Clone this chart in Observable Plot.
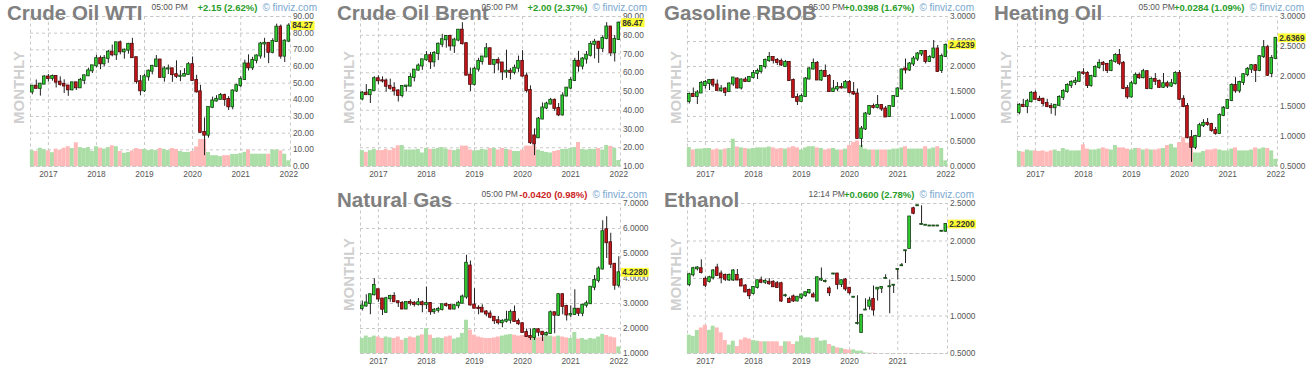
<!DOCTYPE html>
<html><head><meta charset="utf-8">
<script src="https://cdn.jsdelivr.net/npm/d3@7"></script>
<script src="https://cdn.jsdelivr.net/npm/@observablehq/plot@0.6"></script>
<style>
body{margin:0;background:#fff;width:1315px;height:376px;overflow:hidden;position:relative;font-family:"Liberation Sans",Arial,sans-serif}
.panel{position:absolute;width:328px;height:183px}
.panel svg{position:absolute;left:0;top:0}
.time{position:absolute;left:151.5px;top:2px;font-size:8.5px;line-height:11px;color:#555;z-index:1;white-space:nowrap}
.right{position:absolute;right:11px;top:2px;display:flex;gap:5px;align-items:baseline;line-height:11px;z-index:1;white-space:nowrap}
.chg{font-size:9.5px;font-weight:bold}
.fv{font-size:10px;color:#7aa7cf}
.title{position:absolute;left:7px;top:3.3px;font-size:20.5px;line-height:1;font-weight:bold;color:#808080;z-index:2;white-space:nowrap}
</style></head><body>
<script>
// Monthly candles Sep 2016 .. Jan 2022 : [open, high, low, close, relative volume]
const wti = [
[44.7,48.3,43.0,48.2,52],[48.2,51.9,46.6,46.9,50],[46.9,49.9,42.2,49.4,61],[49.4,54.5,49.4,53.7,56],
[53.7,55.2,50.7,52.8,52],[52.8,54.9,51.2,54.0,46],[54.0,54.6,47.1,50.6,58],[50.6,53.8,48.2,49.3,54],[49.3,52.0,43.8,48.3,61],[48.3,48.6,42.1,46.0,66],[46.0,50.4,45.4,50.2,60],[50.2,50.4,45.6,47.2,79],[47.2,52.9,46.8,51.7,63],[51.7,54.9,49.1,54.4,60],[54.4,59.0,54.2,57.4,63],[57.4,60.5,55.8,60.4,50],
[60.4,66.7,59.1,64.7,66],[64.7,66.3,58.1,61.6,61],[61.6,66.6,59.9,64.9,58],[64.9,69.6,61.9,68.6,63],[68.6,72.9,65.8,67.0,69],[67.0,74.5,63.6,74.2,66],[74.2,75.3,67.0,68.8,50],[68.8,70.5,64.4,69.8,44],[69.8,73.9,67.4,73.3,47],[73.3,76.9,64.9,65.3,52],[65.3,65.4,49.4,50.9,60],[50.9,54.6,42.4,45.4,57],
[45.4,55.4,44.4,53.8,57],[53.8,57.9,51.2,57.2,53],[57.2,60.7,55.0,60.1,55],[60.1,66.6,59.5,63.9,53],[63.9,63.9,53.0,53.5,60],[53.5,59.9,50.6,58.5,57],[58.5,60.9,55.2,58.6,53],[58.6,58.8,50.5,55.1,60],[55.1,63.4,52.8,54.1,57],[54.1,57.5,50.9,54.2,50],[54.2,58.7,54.0,55.2,47],[55.2,62.3,55.0,61.1,47],
[61.1,65.7,51.3,51.6,50],[51.6,54.7,44.0,44.8,65],[44.8,48.7,20.1,20.5,90],[20.5,29.1,6.5,18.8,90],[18.8,35.4,17.0,35.5,47],[35.5,41.6,34.7,39.3,36],[39.3,42.5,38.7,40.3,36],[40.3,43.8,40.0,42.6,33],[42.6,43.4,36.1,40.2,36],[40.2,41.9,33.6,35.8,36],[35.8,46.0,34.0,45.3,40],[45.3,49.4,44.4,48.5,40],
[48.5,53.9,47.2,52.2,43],[52.2,63.8,51.6,61.5,47],[61.5,67.0,57.3,59.2,55],[59.2,65.5,57.6,63.6,41],[63.6,67.0,61.6,66.3,41],[66.3,74.5,64.4,73.5,41],[73.5,76.9,65.0,73.9,41],[73.9,74.0,61.7,68.5,41],[68.5,76.7,67.6,75.0,55],[75.0,85.4,74.4,83.6,55],[83.6,84.9,64.4,66.2,52],[66.2,76.1,62.4,75.2,41],
[75.2,85.7,74.3,84.27,19]];
const brent = [
[46.0,49.9,45.0,49.1,53],[49.1,53.7,48.0,48.3,47],[48.3,50.9,43.6,50.5,53],[50.5,57.9,50.5,56.8,57],
[56.8,58.4,53.6,55.7,53],[55.7,57.8,54.5,55.6,53],[55.6,56.7,49.7,52.8,57],[52.8,56.6,50.7,51.7,53],[51.7,54.7,47.6,50.3,60],[50.3,50.9,44.4,47.9,69],[47.9,52.9,46.6,52.7,70],[52.7,53.2,49.7,52.9,55],[52.9,59.5,52.4,57.5,55],[57.5,61.7,55.1,61.4,55],[61.4,64.7,60.9,63.6,57],[63.6,67.1,61.3,66.9,45],
[66.9,71.3,66.1,69.1,60],[69.1,70.8,61.8,65.8,57],[65.8,71.3,62.9,70.3,57],[70.3,75.9,66.5,75.2,60],[75.2,80.5,73.4,77.6,63],[77.6,79.8,73.1,79.4,58],[79.4,80.0,71.5,74.3,55],[74.3,78.4,70.3,77.4,53],[77.4,83.0,76.5,82.7,57],[82.7,86.7,74.8,75.5,68],[75.5,76.0,58.4,58.7,68],[58.7,62.5,50.0,53.8,55],
[53.8,63.0,52.9,61.9,52],[61.9,67.7,60.4,66.0,53],[66.0,68.7,64.1,68.4,57],[68.4,75.6,68.3,72.8,55],[72.8,73.1,64.3,64.5,60],[64.5,66.6,59.5,66.6,60],[66.6,68.0,61.0,65.2,55],[65.2,65.5,55.9,60.4,60],[60.4,72.0,57.0,60.8,57],[60.8,62.3,56.2,60.2,55],[60.2,64.1,58.9,62.4,50],[62.4,68.9,60.2,66.0,50],
[66.0,71.8,57.7,58.2,55],[58.2,59.9,49.2,50.5,68],[50.5,53.0,21.7,22.7,68],[26.3,30.0,15.8,22.0,70],[25.3,36.2,25.0,35.3,55],[35.3,43.9,35.0,41.2,50],[41.2,44.3,40.4,43.3,47],[43.3,46.3,42.9,45.3,45],[45.3,46.0,39.4,41.0,50],[41.0,43.6,36.6,37.5,53],[37.5,49.3,36.9,47.6,57],[47.6,52.0,47.1,51.8,57],
[51.8,57.4,51.1,55.9,60],[55.9,67.7,55.3,66.1,63],[66.1,71.4,60.3,63.5,80],[63.5,68.1,61.5,67.3,57],[67.3,71.3,64.6,69.3,55],[69.3,76.6,68.4,75.1,57],[75.1,77.8,67.4,76.3,57],[76.3,76.7,65.0,73.0,60],[73.0,79.7,70.7,78.3,55],[78.3,86.7,77.6,84.4,70],[84.4,84.6,68.6,70.6,67],[70.6,79.8,65.7,77.8,60],
[77.8,87.0,77.3,86.47,20]];
const rbob = [
[1.30,1.47,1.25,1.44,63],[1.44,1.57,1.38,1.40,55],[1.40,1.52,1.24,1.47,58],[1.47,1.70,1.46,1.66,58],
[1.62,1.72,1.55,1.68,60],[1.66,1.74,1.52,1.72,60],[1.72,1.75,1.58,1.63,55],[1.63,1.73,1.52,1.52,58],[1.52,1.62,1.48,1.55,55],[1.55,1.58,1.40,1.48,58],[1.50,1.67,1.48,1.65,60],[1.65,1.78,1.60,1.77,91],[1.75,1.77,1.55,1.57,65],[1.57,1.75,1.53,1.73,62],[1.73,1.78,1.68,1.70,60],[1.70,1.80,1.68,1.78,58],
[1.78,1.92,1.75,1.86,60],[1.86,1.95,1.74,1.90,62],[1.90,2.02,1.85,2.00,62],[2.00,2.15,1.95,2.12,62],[2.12,2.28,2.08,2.18,65],[2.18,2.20,2.05,2.12,62],[2.12,2.16,2.02,2.08,58],[2.10,2.15,2.00,2.03,60],[2.00,2.12,1.98,2.08,58],[2.08,2.10,1.70,1.72,62],[1.72,1.75,1.36,1.38,66],[1.38,1.45,1.22,1.30,62],
[1.30,1.45,1.28,1.40,55],[1.40,1.78,1.38,1.75,62],[1.75,1.98,1.73,1.95,66],[1.95,2.15,1.93,2.06,66],[2.06,2.10,1.72,1.73,62],[1.73,1.93,1.70,1.90,60],[1.90,2.03,1.78,1.80,55],[1.80,1.84,1.48,1.50,58],[1.50,1.72,1.48,1.55,60],[1.55,1.68,1.50,1.58,55],[1.58,1.66,1.55,1.57,55],[1.57,1.72,1.56,1.68,58],
[1.68,1.72,1.45,1.48,70],[1.48,1.68,1.42,1.45,80],[1.45,1.55,0.55,0.56,85],[0.56,0.80,0.38,0.75,70],[0.75,1.08,0.72,1.05,58],[1.05,1.22,1.02,1.20,55],[1.20,1.25,1.15,1.18,55],[1.18,1.42,1.15,1.22,55],[1.22,1.23,1.10,1.15,55],[1.15,1.20,0.98,0.99,55],[1.00,1.22,0.98,1.20,55],[1.20,1.42,1.18,1.40,58],
[1.40,1.58,1.38,1.55,58],[1.55,1.95,1.53,1.93,62],[1.95,2.15,1.85,1.93,66],[1.93,2.08,1.90,2.05,58],[2.05,2.20,2.00,2.15,58],[2.15,2.28,2.10,2.25,58],[2.25,2.32,2.20,2.30,58],[2.30,2.32,2.05,2.10,66],[2.10,2.22,2.08,2.18,58],[2.18,2.52,2.15,2.35,62],[2.35,2.42,1.88,1.90,66],[1.92,2.25,1.86,2.20,60],
[2.20,2.45,2.18,2.4239,19]];
const heating = [
[1.40,1.55,1.36,1.52,50],[1.52,1.62,1.48,1.50,48],[1.50,1.62,1.38,1.58,55],[1.58,1.75,1.56,1.72,52],
[1.72,1.76,1.60,1.62,52],[1.62,1.67,1.58,1.60,50],[1.62,1.64,1.50,1.55,52],[1.55,1.62,1.48,1.50,48],[1.50,1.55,1.37,1.48,52],[1.48,1.53,1.34,1.52,55],[1.52,1.68,1.50,1.65,50],[1.65,1.78,1.60,1.75,60],[1.75,1.88,1.72,1.85,55],[1.85,1.93,1.80,1.90,52],[1.90,1.98,1.85,1.92,52],[1.92,2.08,1.90,2.06,52],
[2.06,2.13,2.02,2.05,72],[2.05,2.08,1.80,1.85,58],[1.85,2.02,1.82,2.00,55],[2.00,2.18,1.98,2.15,55],[2.15,2.28,2.12,2.22,58],[2.22,2.25,2.08,2.20,62],[2.20,2.22,2.05,2.10,58],[2.10,2.28,2.08,2.25,55],[2.25,2.38,2.22,2.35,70],[2.35,2.45,2.18,2.22,62],[2.22,2.25,1.78,1.80,62],[1.80,1.85,1.62,1.66,58],
[1.66,1.92,1.64,1.88,55],[1.88,2.06,1.86,2.02,60],[2.02,2.06,1.95,1.98,60],[1.98,2.12,1.96,2.08,55],[2.08,2.10,1.78,1.80,58],[1.80,1.98,1.78,1.95,55],[1.95,2.05,1.85,1.92,55],[1.92,1.94,1.80,1.82,58],[1.82,2.05,1.80,1.88,60],[1.88,1.92,1.80,1.84,70],[1.84,1.95,1.82,1.88,74],[1.88,2.08,1.86,2.05,62],
[2.05,2.10,1.60,1.62,80],[1.62,1.68,1.48,1.50,96],[1.50,1.55,0.96,0.98,78],[0.98,1.10,0.57,0.82,62],[0.82,1.02,0.78,1.00,45],[1.00,1.22,0.98,1.18,45],[1.18,1.28,1.15,1.22,50],[1.22,1.30,1.17,1.20,55],[1.20,1.22,1.07,1.10,55],[1.10,1.15,1.02,1.05,58],[1.05,1.38,1.04,1.35,55],[1.35,1.50,1.33,1.47,52],
[1.47,1.62,1.45,1.60,52],[1.60,1.88,1.58,1.85,58],[1.85,1.98,1.72,1.76,62],[1.76,1.92,1.72,1.90,52],[1.90,2.05,1.85,2.03,52],[2.03,2.15,2.00,2.12,52],[2.12,2.20,2.05,2.18,55],[2.18,2.20,1.90,2.10,62],[2.10,2.35,2.08,2.33,58],[2.33,2.60,2.30,2.48,62],[2.48,2.52,2.00,2.02,60],[2.05,2.35,1.98,2.30,52],
[2.30,2.65,2.28,2.6369,24]];
const natgas = [
[2.80,3.10,2.70,2.90,50],[2.90,3.35,2.85,3.02,58],[3.00,3.35,2.55,3.35,53],[3.35,3.99,3.30,3.72,58],
[3.55,3.55,3.05,3.18,55],[3.18,3.20,2.52,2.77,50],[2.65,3.25,2.60,3.19,55],[3.19,3.33,3.05,3.28,52],[3.28,3.43,3.05,3.07,50],[3.07,3.10,2.84,3.04,55],[3.00,3.08,2.75,2.78,44],[2.78,3.04,2.76,3.04,50],[3.04,3.15,2.90,3.01,55],[3.01,3.08,2.86,2.96,52],[2.96,3.20,2.90,3.03,58],[3.03,3.10,2.63,2.95,62],
[2.95,3.66,2.76,3.00,83],[3.00,3.03,2.53,2.67,61],[2.67,2.80,2.56,2.73,50],[2.73,2.85,2.62,2.76,52],[2.76,2.97,2.70,2.95,50],[2.95,3.02,2.85,2.92,55],[2.92,2.92,2.73,2.78,58],[2.78,2.97,2.74,2.91,48],[2.91,3.09,2.79,3.01,52],[3.01,3.34,3.00,3.26,67],[3.26,4.93,3.17,4.61,111],[4.50,4.70,2.90,2.94,78],
[2.94,3.59,2.80,2.81,61],[2.81,2.91,2.55,2.80,55],[2.81,2.95,2.63,2.66,52],[2.66,2.72,2.47,2.58,50],[2.58,2.70,2.39,2.45,50],[2.45,2.47,2.16,2.31,52],[2.31,2.48,2.14,2.23,55],[2.23,2.35,2.03,2.29,58],[2.29,2.69,2.22,2.33,61],[2.33,2.74,2.18,2.64,63],[2.64,2.90,2.26,2.28,61],[2.28,2.38,2.12,2.19,58],
[2.19,2.22,1.82,1.84,60],[1.84,1.98,1.66,1.68,58],[1.68,1.98,1.52,1.64,55],[1.64,2.00,1.52,1.95,58],[1.95,1.99,1.67,1.85,52],[1.85,1.88,1.48,1.75,55],[1.75,1.86,1.70,1.80,60],[1.80,2.70,1.78,2.63,58],[2.63,2.66,1.79,2.53,55],[2.53,3.40,2.48,3.35,58],[3.35,3.40,2.55,2.88,55],[2.88,2.93,2.30,2.54,52],
[2.54,2.90,2.44,2.56,50],[2.56,3.55,2.53,2.77,70],[2.77,2.78,2.48,2.61,48],[2.61,2.97,2.47,2.93,50],[2.93,3.10,2.82,2.99,45],[2.99,3.65,2.97,3.65,50],[3.65,4.12,3.51,3.92,48],[3.92,4.47,3.82,4.38,55],[4.38,6.31,4.34,5.87,64],[5.95,6.47,4.80,5.43,60],[5.43,5.81,4.40,4.57,55],[4.57,4.60,3.53,3.73,52],
[3.73,4.87,3.62,4.228,22]];
const ethanol = [
[1.42,1.57,1.39,1.55,61],[1.55,1.65,1.52,1.63,57],[1.63,1.66,1.60,1.64,77],[1.63,1.75,1.56,1.58,85],
[1.49,1.52,1.38,1.41,94],[1.46,1.53,1.44,1.51,77],[1.51,1.62,1.48,1.60,91],[1.64,1.69,1.53,1.54,85],[1.56,1.60,1.43,1.51,69],[1.54,1.56,1.46,1.49,43],[1.48,1.56,1.46,1.54,28],[1.48,1.62,1.46,1.60,41],[1.54,1.62,1.47,1.48,23],[1.48,1.50,1.39,1.40,45],[1.40,1.42,1.31,1.32,52],[1.34,1.36,1.22,1.27,48],
[1.30,1.38,1.28,1.38,43],[1.38,1.48,1.36,1.47,41],[1.47,1.52,1.43,1.45,39],[1.45,1.49,1.42,1.46,39],[1.45,1.50,1.41,1.43,39],[1.45,1.47,1.38,1.39,39],[1.43,1.46,1.37,1.38,39],[1.43,1.45,1.18,1.20,24],[1.27,1.29,1.25,1.27,39],[1.22,1.25,1.17,1.18,39],[1.255,1.28,1.18,1.20,30],[1.20,1.25,1.19,1.25,39],
[1.24,1.29,1.22,1.28,58],[1.27,1.32,1.25,1.31,52],[1.31,1.35,1.29,1.34,52],[1.28,1.31,1.24,1.255,50],[1.20,1.52,1.19,1.51,52],[1.48,1.64,1.46,1.49,41],[1.46,1.48,1.44,1.46,43],[1.36,1.39,1.26,1.31,30],[1.56,1.56,1.55,1.56,24],[1.56,1.56,1.35,1.42,19],[1.42,1.48,1.38,1.47,17],[1.48,1.50,1.33,1.36,13],
[1.37,1.38,1.28,1.31,11],[1.25,1.25,1.25,1.25,12],[0.90,1.27,0.88,0.90,8],[0.78,1.02,0.77,1.01,8],[1.08,1.23,1.08,1.08,2],[1.13,1.25,1.08,1.20,1],[1.22,1.40,1.00,1.08,1],[1.36,1.37,1.20,1.37,0],[1.37,1.38,1.30,1.38,0],[1.50,1.55,1.50,1.50,0],[1.39,1.48,1.03,1.39,0],[1.41,1.42,1.30,1.41,0],
[1.62,1.62,1.48,1.62,0],[1.67,1.70,1.67,1.67,0],[1.87,1.87,1.70,1.87,0],[1.90,2.32,1.90,2.32,0],[2.43,2.45,2.35,2.37,0],[2.47,2.47,2.47,2.47,0],[2.22,2.47,2.22,2.22,0],[2.21,2.21,2.21,2.21,0],[2.20,2.20,2.20,2.20,0],[2.20,2.20,2.20,2.20,0],[2.20,2.20,2.20,2.20,0],[2.13,2.13,2.12,2.13,0],
[2.13,2.22,2.12,2.22,0]];

const titles = ["Crude Oil WTI","Crude Oil Brent","Gasoline RBOB","Heating Oil","Natural Gas","Ethanol"];
const times = ["05:00 PM","05:00 PM","05:00 PM","05:00 PM","05:00 PM","12:14 PM"];
const changes = ["+2.15 (2.62%)","+2.00 (2.37%)","+0.0398 (1.67%)","+0.0284 (1.09%)","-0.0420 (0.98%)","+0.0600 (2.78%)"];
const lastLabels = ["84.27","86.47","2.4239","2.6369","4.2280","2.2200"];
const ticksWti = [0,10,20,30,40,50,60,70,80,90];
const ticksBrent = [10,20,30,40,50,60,70,80,90];
const ticksRbob = [0,0.5,1,1.5,2,2.5,3];
const ticksHeating = [0.5,1,1.5,2,2.5,3];
const ticksNatgas = [1,2,3,4,5,6,7];
const ticksEthanol = [0.5,1,1.5,2,2.5];
const yearLabels = [2017,2018,2019,2020,2021,2022];

const months = d3.utcMonth.range(new Date(Date.UTC(2016,8,1)), new Date(Date.UTC(2022,1,1)));
const xDomain = [new Date(Date.UTC(2016,7,18)), new Date(Date.UTC(2022,0,14))];
const yearDate = y => new Date(Date.UTC(y,0,1));

const panels = [
  {rows:wti, ticks:ticksWti, fmt:".2f", left:0, top:0, years:yearLabels},
  {rows:brent, ticks:ticksBrent, fmt:".2f", left:330, top:0, years:yearLabels},
  {rows:rbob, ticks:ticksRbob, fmt:".4f", left:657, top:0, years:yearLabels},
  {rows:heating, ticks:ticksHeating, fmt:".4f", left:987, top:0, years:yearLabels},
  {rows:natgas, ticks:ticksNatgas, fmt:".4f", left:330, top:187, years:yearLabels},
  {rows:ethanol, ticks:ticksEthanol, fmt:".4f", left:657, top:187, years:yearLabels.slice(0,5)}
];

const DAY = 864e5;
panels.forEach((p, k) => {
  const data = p.rows.map((r, i) => ({date: months[i], o: r[0], h: r[1], l: r[2], c: r[3], v: r[4]}));
  const y0 = p.ticks[0], y1 = p.ticks[p.ticks.length - 1];
  const up = d => d.c >= d.o;
  const plot = Plot.plot({
    width: 328, height: 183,
    marginLeft: 30, marginRight: 38, marginTop: 16, marginBottom: 17,
    style: {fontFamily: "'Liberation Sans', Arial, sans-serif", fontSize: "8.3px", color: "#555"},
    x: {type: "utc", domain: xDomain, label: null},
    y: {domain: [y0, y1], label: null},
    color: {type: "identity"},
    marks: [
      Plot.gridY(p.ticks, {stroke: "#c8c8c8", strokeOpacity: 1, strokeDasharray: "3,3"}),
      Plot.gridX(yearLabels.slice(0,5).map(yearDate), {stroke: "#c8c8c8", strokeOpacity: 1, strokeDasharray: "3,3"}),
      Plot.frame({stroke: "#c8c8c8", strokeDasharray: "3,3"}),
      Plot.rect(data, {
        x1: d => new Date(+d.date - 15.2 * DAY), x2: d => new Date(+d.date + 15.2 * DAY),
        y1: () => y0, y2: d => y0 + d.v / 100 * 0.2 * (y1 - y0),
        fill: d => up(d) ? "#abdea6" : "#ffb9b9"
      }),
      Plot.ruleX(data, {x: "date", y1: "l", y2: "h", stroke: "#222", strokeWidth: 1}),
      Plot.rect(data, {
        x1: d => new Date(+d.date - 10 * DAY), x2: d => new Date(+d.date + 10 * DAY),
        y1: "o", y2: "c",
        fill: d => up(d) ? "#2fd12f" : "#c8161b",
        stroke: d => up(d) ? "#123d12" : "#4a0808", strokeWidth: 0.8,
        insetTop: -0.5, insetBottom: -0.5
      }),
      Plot.axisY(p.ticks, {anchor: "right", tickSize: 0, tickPadding: 2.5, tickFormat: d3.format(p.fmt), fill: "#555"}),
      Plot.axisX(p.years.map(yearDate), {anchor: "bottom", tickSize: 0, tickPadding: 5, tickFormat: d3.utcFormat("%Y"), fill: "#555"}),
      Plot.text(["MONTHLY"], {frameAnchor: "left", dx: -11.5, dy: -4, rotate: -90, fontSize: 15, fontWeight: "bold", fill: "#d0d0d0", textAnchor: "middle", lineAnchor: "middle"})
    ]
  });
  // last-price marker at the last close, placed through the y scale
  const lastClose = data[data.length - 1].c;
  const yy = plot.scale("y").apply(lastClose);
  const label = lastLabels[k];
  const svg = d3.select(plot);
  svg.append("rect").attr("x", 291).attr("y", yy - 4.4).attr("width", label.length * 4.3 + 2).attr("height", 8.8).attr("fill", "#ffff33");
  svg.append("text").attr("x", 292.2).attr("y", yy).attr("dy", "0.35em").attr("text-anchor", "start")
    .attr("font-size", 8.3).attr("font-weight", "bold").attr("fill", "#333").text(label);

  const div = document.createElement("div");
  div.className = "panel";
  div.style.left = p.left + "px";
  div.style.top = p.top + "px";
  div.appendChild(plot);
  const t = document.createElement("div"); t.className = "time"; t.textContent = times[k]; div.appendChild(t);
  const r = document.createElement("div"); r.className = "right";
  const c = document.createElement("span"); c.className = "chg"; c.textContent = changes[k];
  c.style.color = changes[k].startsWith("-") ? "#cc2424" : "#2a9d2a";
  const f = document.createElement("span"); f.className = "fv"; f.textContent = "© finviz.com";
  r.appendChild(c); r.appendChild(f); div.appendChild(r);
  const ti = document.createElement("div"); ti.className = "title"; ti.textContent = titles[k]; div.appendChild(ti);
  document.body.appendChild(div);
});
</script></body></html>
